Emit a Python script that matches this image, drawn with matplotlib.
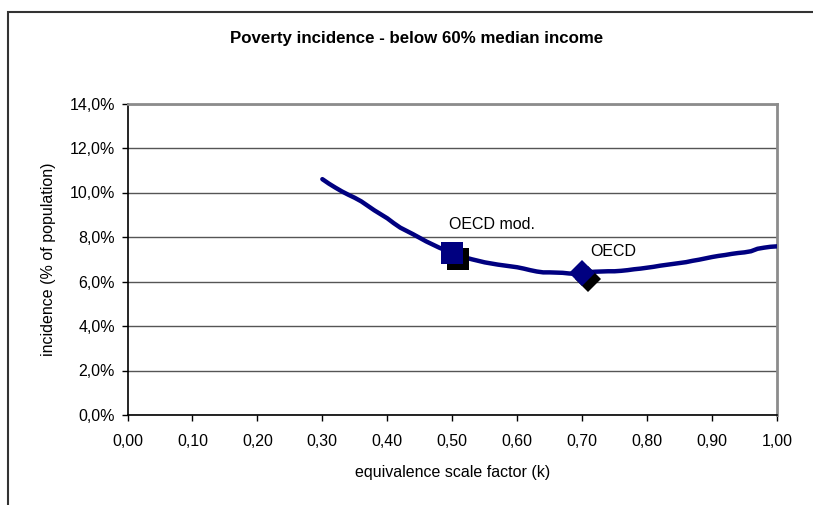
import matplotlib
matplotlib.use('Agg')
import matplotlib.pyplot as plt
import matplotlib.transforms as mtransforms
from matplotlib.patches import Rectangle
from matplotlib.ticker import FuncFormatter
import numpy as np

# equivalence scale factor k and poverty incidence (%)
k_values = [0.30, 0.31, 0.32, 0.33, 0.34, 0.35, 0.36, 0.37, 0.38, 0.39,
            0.40, 0.41, 0.42, 0.43, 0.44, 0.45, 0.46, 0.47, 0.48, 0.49,
            0.50, 0.51, 0.52, 0.53, 0.54, 0.55, 0.56, 0.57, 0.58, 0.59,
            0.60, 0.61, 0.62, 0.63, 0.64, 0.65, 0.66, 0.67, 0.68, 0.69,
            0.70, 0.71, 0.72, 0.73, 0.74, 0.75, 0.76, 0.77, 0.78, 0.79,
            0.80, 0.81, 0.82, 0.83, 0.84, 0.85, 0.86, 0.87, 0.88, 0.89,
            0.90, 0.91, 0.92, 0.93, 0.94, 0.95, 0.96, 0.97, 0.98, 0.99,
            1.00]
incidence = [10.60, 10.40, 10.22, 10.05, 9.90, 9.76, 9.60, 9.40, 9.20, 9.02,
             8.84, 8.62, 8.42, 8.27, 8.12, 7.96, 7.80, 7.66, 7.52, 7.40,
             7.30, 7.18, 7.08, 7.00, 6.93, 6.86, 6.81, 6.76, 6.72, 6.68,
             6.64, 6.58, 6.51, 6.45, 6.41, 6.41, 6.40, 6.39, 6.36, 6.34,
             6.36, 6.42, 6.44, 6.45, 6.46, 6.46, 6.48, 6.51, 6.55, 6.58,
             6.62, 6.66, 6.71, 6.75, 6.79, 6.83, 6.87, 6.93, 6.98, 7.04,
             7.10, 7.15, 7.19, 7.24, 7.28, 7.31, 7.36, 7.47, 7.52, 7.56,
             7.58]

# reference scales
scale_names = ['OECD mod.', 'OECD']
scale_k = [0.50, 0.70]
scale_markers = ['s', 'D']
scale_sizes = [15.6, 13.6]
label_offsets = [(-3, 28), (8, 22)]

x_ticks = np.arange(0, 1.01, 0.1)
y_ticks = np.arange(0, 14.1, 2)

plt.rcParams['font.family'] = ['Liberation Sans', 'DejaVu Sans']

fig = plt.figure(figsize=(8.13, 5.05), dpi=100)
ax = fig.add_axes([127.5 / 813, 1 - 415 / 505, 649.5 / 813, (415 - 103.5) / 505])

# outer chart frame
fig.patches.append(Rectangle((8 / 813, -0.1), 1.2, 1 - 11.5 / 505 + 0.1,
                             transform=fig.transFigure, fill=False,
                             edgecolor='#333333', linewidth=1.5))

ax.plot(k_values, incidence, color='#000080', linewidth=3.2,
        solid_capstyle='round', zorder=3)

shadow = mtransforms.offset_copy(ax.transData, fig=fig, x=6, y=-6, units='dots')
for name, kk, mk, ms, off in zip(scale_names, scale_k, scale_markers,
                                 scale_sizes, label_offsets):
    yy = incidence[k_values.index(kk)]
    ax.plot([kk], [yy], marker=mk, markersize=ms, color='black',
            markeredgewidth=0, transform=shadow, zorder=4)
    ax.plot([kk], [yy], marker=mk, markersize=ms, color='#000080',
            markeredgewidth=0, zorder=5)
    ax.annotate(name, (kk, yy), xytext=off, textcoords='offset pixels',
                ha='left', va='center', fontsize=11.5, zorder=6)

ax.set_xlim(0, 1)
ax.set_ylim(0, 14)
ax.set_xticks(x_ticks)
ax.set_yticks(y_ticks)
ax.xaxis.set_major_formatter(FuncFormatter(lambda v, p: f'{v:.2f}'.replace('.', ',')))
ax.yaxis.set_major_formatter(FuncFormatter(lambda v, p: f'{v:.1f}%'.replace('.', ',')))
ax.tick_params(direction='out', length=4, width=1, labelsize=11.5)
ax.tick_params(axis='x', pad=9.5)
ax.tick_params(axis='y', pad=5)

ax.grid(axis='y', color='#555555', linewidth=1)
ax.set_axisbelow(True)
for side in ['left', 'bottom']:
    ax.spines[side].set_color('black')
    ax.spines[side].set_linewidth(1.2)
for side in ['right', 'top']:
    ax.spines[side].set_color('#8c8c8c')
    ax.spines[side].set_linewidth(2)

ax.set_xlabel('equivalence scale factor (k)', fontsize=11.5, labelpad=12)
ax.set_ylabel('incidence (% of population)', fontsize=11.5, labelpad=10)
fig.text(417 / 813, 1 - 38 / 505, 'Poverty incidence - below 60% median income',
         ha='center', va='center', fontsize=12.2, fontweight='bold')

fig.savefig('out.png', dpi=100)
